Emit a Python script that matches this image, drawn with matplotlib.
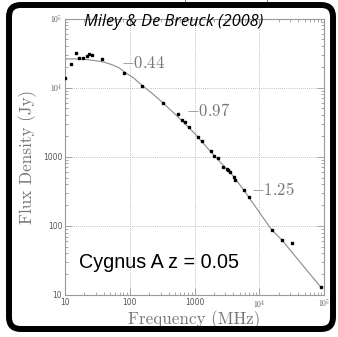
import matplotlib
matplotlib.use("Agg")
import matplotlib.pyplot as plt
from matplotlib.patches import FancyBboxPatch
from matplotlib.lines import Line2D
from matplotlib.ticker import FixedLocator, FixedFormatter, LogLocator, NullFormatter

plt.rcParams['mathtext.fontset'] = 'cm'

# data (frequency MHz, flux density Jy)
freq = [10, 12.5, 14.6, 16.4, 19.1, 21.6, 23.7, 25.8, 37.2, 82, 153, 322,
        554, 640, 704, 811, 1140, 1300, 1770, 2010, 2300, 2770, 3160, 3310,
        3560, 4060, 4160, 5780, 6840, 15500, 22600, 32200, 90200]
flux = [13700, 22000, 31700, 26600, 26900, 28700, 31000, 29700, 25700, 16300,
        10600, 6070, 4160, 3440, 3190, 2730, 1940, 1710, 1210, 1040, 951, 711,
        672, 644, 597, 515, 462, 331, 265, 88, 62, 57, 12.9]

# fitted curve
curve_freq = [10, 18, 29, 40, 53, 68, 84, 115, 154, 220, 316, 560, 1000,
              2000, 4000, 5800, 15500, 22500, 50000, 90000]
curve_flux = [26000, 26000, 24600, 23400, 21500, 19400, 16700, 13800, 10800,
              8300, 6170, 3750, 2180, 1045, 522, 327, 88, 62, 25, 12.9]

tick_vals = [10, 100, 1000, 1e4, 1e5]
tick_labels = ['10', '100', '1000', r'$10^4$', r'$10^5$']

slope_labels = [r'$-0.44$', r'$-0.97$', r'$-1.25$']
slope_pos = [(72, 23000), (740, 4650), (7400, 325)]

title = 'Miley & De Breuck (2008)'
source_text = 'Cygnus A z = 0.05'

W, H = 338, 337
fig = plt.figure(figsize=(W / 100, H / 100), dpi=100)
fig.patch.set_facecolor('white')

ax = fig.add_axes([65 / W, 1 - 295 / H, (324 - 65) / W, (295 - 18.5) / H])
ax.set_xscale('log')
ax.set_yscale('log')
ax.set_xlim(10, 1e5)
ax.set_ylim(10, 1e5)

ax.plot(curve_freq, curve_flux, color='#8a8a8a', lw=0.8, zorder=2)
ax.plot(freq, flux, ls='none', marker='s', ms=2.1, color='black', zorder=3)

grey = '#777777'
for s in ax.spines.values():
    s.set_color('#999999')
    s.set_linewidth(0.8)

for axis in (ax.xaxis, ax.yaxis):
    axis.set_major_locator(FixedLocator(tick_vals))
    axis.set_major_formatter(FixedFormatter(tick_labels))
    axis.set_minor_locator(LogLocator(base=10, subs=range(2, 10), numticks=20))
    axis.set_minor_formatter(NullFormatter())
ax.tick_params(which='both', direction='in', top=True, right=True, color='#888888', width=0.5)
ax.tick_params(which='major', length=5, labelsize=5.5, labelcolor='#555555', pad=2)
ax.tick_params(which='minor', length=2.5)
ax.grid(True, which='major', ls=(0, (1, 1.5)), color='#aaaaaa', lw=0.6)

ax.set_xlabel('Frequency (MHz)', family='cmr10', fontsize=12.3, color=grey, labelpad=0)
ax.set_ylabel('Flux Density (Jy)', family='cmr10', fontsize=12.3, color=grey, labelpad=4)

for lab, (x, y) in zip(slope_labels, slope_pos):
    ax.text(x, y, lab, fontsize=12, color=grey, ha='left', va='center')

ax.text(0.055, 0.098, source_text, transform=ax.transAxes,
        family='Liberation Sans', fontsize=14.2, color='black', ha='left', va='baseline')

fig.text(174 / W, 1 - 22 / H, title, family='Open Sans', style='italic',
         fontsize=11.8, color='black', ha='center', va='center')

border = FancyBboxPatch((9 / W, 8 / H), (333 - 9) / W, (332 - 8) / H,
                        boxstyle='round,pad=0,rounding_size=0.035',
                        transform=fig.transFigure, fill=False,
                        edgecolor='black', linewidth=4.3, zorder=10)
fig.patches.append(border)

for xp in (185, 267):
    fig.lines.append(Line2D([xp / W, xp / W], [1, 1 - 5 / H], transform=fig.transFigure,
                            color='#555555', lw=0.6))

fig.savefig('out.png', dpi=100, facecolor='white')
